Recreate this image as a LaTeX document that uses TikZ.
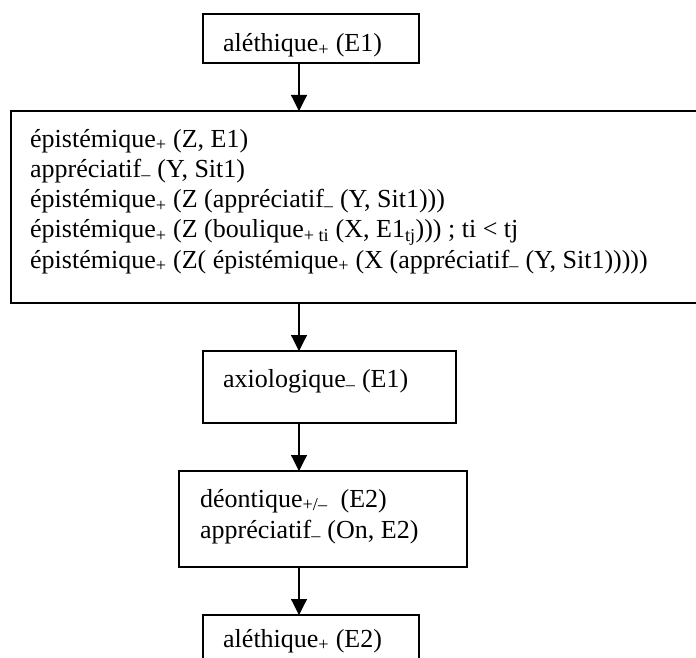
\documentclass[tikz,border=0pt]{standalone}
\usepackage{fontspec}
\setmainfont{Liberation Serif}
\usetikzlibrary{arrows.meta}
\newcommand{\sbs}[1]{\textsubscript{#1}}
\begin{document}
\begin{tikzpicture}[x=1pt,y=-1pt,
  boxnode/.style={draw, line width=1.6pt, inner sep=0pt, outer sep=0pt},
  txt/.style={anchor=base west, inner sep=0pt, font=\fontsize{26}{31}\selectfont},
  arr/.style={line width=1.2pt, -{Triangle[width=16pt,length=16pt]}}]
\useasboundingbox (0,0) rectangle (696,658);
\clip (0,0) rectangle (696,658);
% boxes
\node[boxnode, minimum width=216pt, minimum height=49pt] (b1) at (311,38.5) {};
\node[boxnode, minimum width=689pt, minimum height=191.7pt] (b2) at (355.5,206.85) {};
\node[boxnode, minimum width=253pt, minimum height=72pt] (b3) at (329.5,387) {};
\node[boxnode, minimum width=288pt, minimum height=96pt] (b4) at (323,519) {};
\node[boxnode, minimum width=216pt, minimum height=85pt] (b5) at (311,657.5) {};
% texts
\node[txt] (t1) at (223,52) {aléthique\sbs{+} (E1)};
\node[txt] (t2a) at (30,147) {épistémique\sbs{+} (Z, E1)};
\node[txt] (t2b) at (30,177.25) {appréciatif\sbs{–} (Y, Sit1)};
\node[txt] (t2c) at (30,207.5) {épistémique\sbs{+} (Z (appréciatif\sbs{–} (Y, Sit1)))};
\node[txt] (t2d) at (30,237.75) {épistémique\sbs{+} (Z (boulique\sbs{+ ti} (X, E1\sbs{tj}))) ; ti < tj};
\node[txt] (t2e) at (30,268) {épistémique\sbs{+} (Z( épistémique\sbs{+} (X (appréciatif\sbs{–} (Y, Sit1)))))};
\node[txt] (t3) at (223,387) {axiologique\sbs{–} (E1)};
\node[txt] (t4a) at (200,507) {déontique\sbs{+/–}\ \ (E2)};
\node[txt] (t4b) at (200,538) {appréciatif\sbs{–} (On, E2)};
\node[txt] (t5) at (223,647) {aléthique\sbs{+} (E2)};
% connectors
\coordinate (x0) at (299,0);
\draw[arr] (x0 |- b1.south) -- (x0 |- b2.north);
\draw[arr] (x0 |- b2.south) -- (x0 |- b3.north);
\draw[arr] (x0 |- b3.south) -- (x0 |- b4.north);
\draw[arr] (x0 |- b4.south) -- (x0 |- b5.north);
\end{tikzpicture}
\end{document}
